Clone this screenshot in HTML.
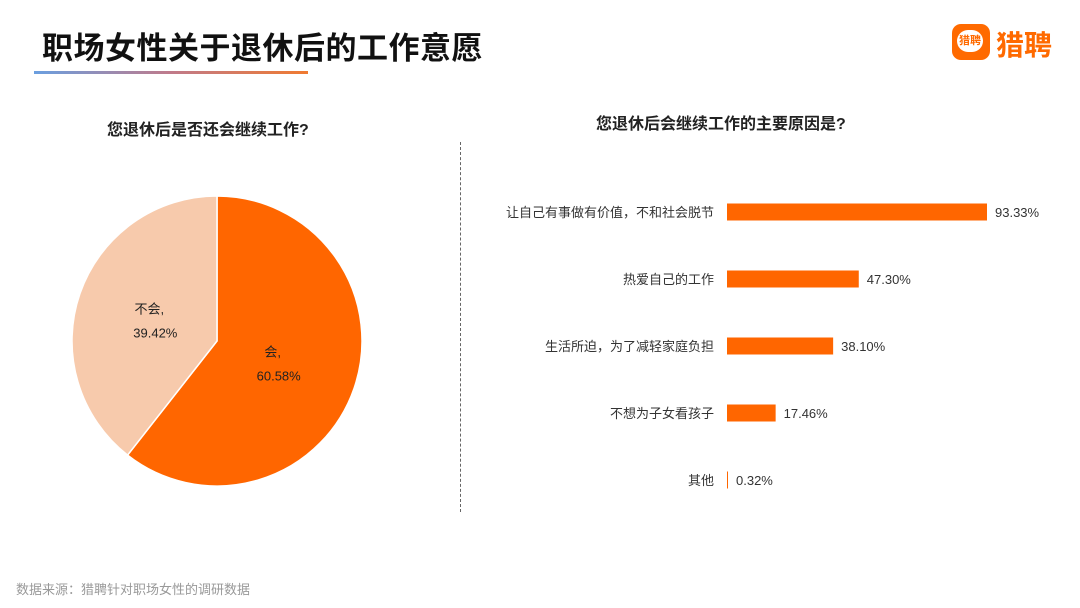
<!DOCTYPE html>
<html><head><meta charset="utf-8"><style>
body{margin:0;width:1080px;height:608px;background:#fff;font-family:"Liberation Sans","Noto Sans CJK SC",sans-serif;position:relative;overflow:hidden}
.t{position:absolute;white-space:nowrap}
</style></head><body>
<div class="t" style="left:42px;top:23px;font-size:31px;font-weight:bold;color:#111;letter-spacing:0.5px">职场女性关于退休后的工作意愿</div>
<div style="position:absolute;left:34px;top:71px;width:274px;height:3px;background:linear-gradient(90deg,#6a9fe0,#c07a8a,#f07a30)"></div>
<div style="position:absolute;left:952px;top:24px;width:38px;height:36px;background:#ff6a00;border-radius:9px"><div style="position:absolute;left:5px;top:6px;width:26px;height:22px;background:#fff;border-radius:11px;color:#ff6a00;font-size:11px;text-align:center;line-height:22px;font-weight:bold">猎聘</div></div>
<div class="t" style="left:996px;top:24px;font-size:28px;font-weight:bold;color:#ff6a00">猎聘</div>
<div class="t" style="left:107px;top:116px;font-size:16px;font-weight:bold;color:#222">您退休后是否还会继续工作?</div>
<div class="t" style="left:596px;top:110px;font-size:16px;font-weight:bold;color:#222">您退休后会继续工作的主要原因是?</div>
<div style="position:absolute;left:460px;top:142px;height:370px;border-left:1px dashed #666"></div>
<div class="t" style="left:16px;top:579px;font-size:13px;color:#999">数据来源：猎聘针对职场女性的调研数据</div>
<svg id="pie" width="1080" height="608" style="position:absolute;left:0;top:0"></svg>
<script>
const pieLabels=["会","不会"];
const pieValues=[60.58,39.42];
const pieColors=["#ff6600","#f7caac"];
const barCats=["让自己有事做有价值，不和社会脱节","热爱自己的工作","生活所迫，为了减轻家庭负担","不想为子女看孩子","其他"];
const barValues=[93.33,47.30,38.10,17.46,0.32];
const NS="http://www.w3.org/2000/svg";
const svg=document.getElementById('pie');
function mk(tag,attrs){const e=document.createElementNS(NS,tag);for(const k in attrs)e.setAttribute(k,attrs[k]);svg.appendChild(e);return e;}
const cx=217,cy=341,r=145;
const total=pieValues.reduce((a,b)=>a+b,0);
let a0=-Math.PI/2;
pieValues.forEach((v,i)=>{
  const a1=a0+v/total*2*Math.PI;
  const large=(a1-a0)>Math.PI?1:0;
  const p=mk('path',{d:`M${cx},${cy}L${cx+r*Math.cos(a0)},${cy+r*Math.sin(a0)}A${r},${r} 0 ${large} 1 ${cx+r*Math.cos(a1)},${cy+r*Math.sin(a1)}Z`,fill:pieColors[i],stroke:'#fff','stroke-width':1.5});
  
  
  const am=(a0+a1)/2, lr=r*0.45;
  const lx=cx+lr*Math.cos(am), ly=cy+lr*Math.sin(am);
  const t1=mk('text',{x:lx-6,y:ly-6,'text-anchor':'middle','font-size':13,fill:'#222'});t1.textContent=pieLabels[i]+',';
  
  
  const t2=mk('text',{x:lx,y:ly+18,'text-anchor':'middle','font-size':13,fill:'#222'});t2.textContent=v.toFixed(2)+'%';
  
  
  a0=a1;
});
const bx0=727,scale=260/93.33,by0=212,step=67,bh=17;
barCats.forEach((c,i)=>{
  const y=by0+i*step, w=Math.max(barValues[i]*scale,1);
  const b=mk('rect',{x:bx0,y:y-bh/2,width:w,height:bh,fill:'#ff6600'});
  
  
  const l=mk('text',{x:714,y:y+5,'text-anchor':'end','font-size':13,fill:'#333'});l.textContent=c;
  
  
  const v=mk('text',{x:bx0+w+8,y:y+5,'font-size':13,fill:'#333'});v.textContent=barValues[i].toFixed(2)+'%';
  
  
});
</script>
</body></html>
